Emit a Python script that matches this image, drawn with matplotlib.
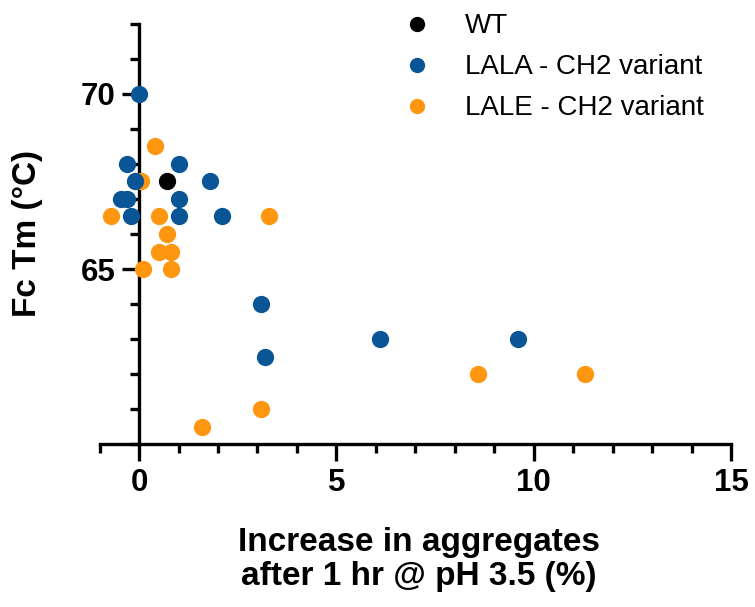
import numpy as np
import matplotlib.pyplot as plt
from matplotlib.ticker import MultipleLocator, FixedLocator
from matplotlib.lines import Line2D

plt.rcParams['font.family'] = ['Liberation Sans', 'DejaVu Sans']

# data
wt_x = [0.7]
wt_y = [67.5]

lala_x = [0.0, -0.3, 1.0, -0.1, 1.8, -0.45, -0.3, 1.0, -0.2, 1.0, 2.1, 3.1, 3.2, 6.1, 9.6]
lala_y = [70, 68, 68, 67.5, 67.5, 67, 67, 67, 66.5, 66.5, 66.5, 64, 62.5, 63, 63]

lale_x = [0.4, 0.05, -0.7, 0.5, 3.3, 0.7, 0.5, 0.8, 0.1, 0.8, 3.1, 1.6, 8.6, 11.3]
lale_y = [68.5, 67.5, 66.5, 66.5, 66.5, 66, 65.5, 65.5, 65, 65, 61, 60.5, 62, 62]

labels = ['WT', 'LALA - CH2 variant', 'LALE - CH2 variant']
colors = ['#000000', '#0A5596', '#FF9610']
y_major = [65, 70]

fig = plt.figure(figsize=(7.55, 6.07), dpi=100)
ax = fig.add_axes([0.1319, 0.2685, 0.8363, 0.692])

ax.scatter(lale_x, lale_y, s=155, color=colors[2], linewidths=0, zorder=3, clip_on=False)
ax.scatter(lala_x, lala_y, s=155, color=colors[1], linewidths=0, zorder=4, clip_on=False)
ax.scatter(wt_x, wt_y, s=155, color=colors[0], linewidths=0, zorder=5, clip_on=False)

ax.set_xlim(-1, 15)
ax.set_ylim(60, 72)

ax.spines['top'].set_visible(False)
ax.spines['right'].set_visible(False)
ax.spines['left'].set_position(('data', 0))
for s in ['left', 'bottom']:
    ax.spines[s].set_linewidth(2.4)
    ax.spines[s].set_zorder(2)

ax.xaxis.set_major_locator(MultipleLocator(5))
ax.xaxis.set_minor_locator(MultipleLocator(1))
ax.yaxis.set_major_locator(FixedLocator(y_major))
ax.yaxis.set_minor_locator(MultipleLocator(1))
ax.tick_params(which='major', length=12, width=2.4, labelsize=22.5, pad=5)
ax.tick_params(which='minor', length=6.5, width=2.4)
for lab in ax.get_xticklabels() + ax.get_yticklabels():
    lab.set_fontweight('bold')

ax.set_xlabel('Increase in aggregates\nafter 1 hr @ pH 3.5 (%)', fontsize=24,
              fontweight='bold', linespacing=1.15)
ax.xaxis.set_label_coords(0.506, -0.197)
ax.xaxis.label.set_va('top')
ax.set_ylabel('Fc Tm (°C)', fontsize=24, fontweight='bold')
ax.yaxis.set_label_coords(-0.09, 0.5)

handles = [Line2D([], [], marker='o', ls='none', ms=11, color=c, mec='none') for c in colors]
fig.legend(handles, labels, loc='upper left', bbox_to_anchor=(0.5335, 0.978),
           frameon=False, fontsize=20, borderpad=0, borderaxespad=0,
           handlelength=1, handletextpad=1.23, labelspacing=0.54)

fig.savefig('out.png', dpi=100)
